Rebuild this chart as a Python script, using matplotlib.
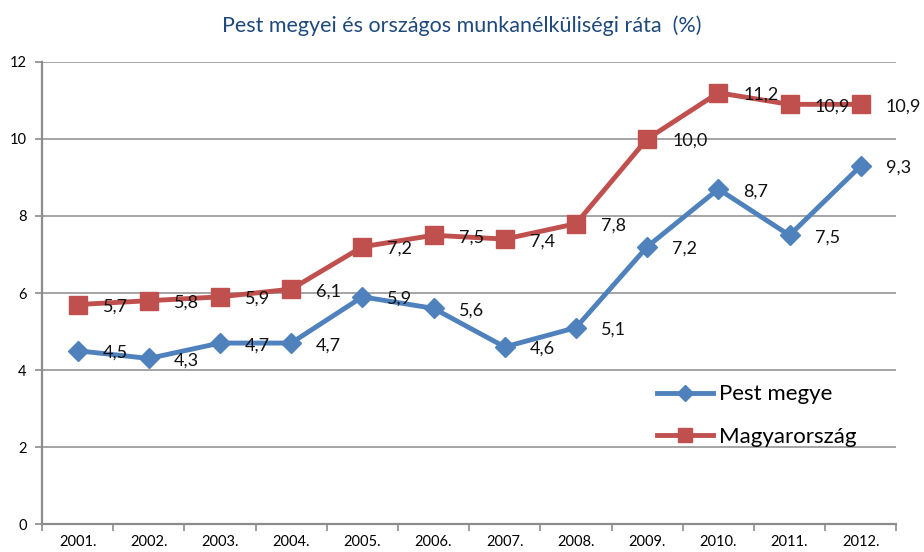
import matplotlib
matplotlib.use('Agg')
import matplotlib.pyplot as plt

plt.rcParams['font.family'] = ['Lato', 'DejaVu Sans']

years = ['2001.', '2002.', '2003.', '2004.', '2005.', '2006.',
         '2007.', '2008.', '2009.', '2010.', '2011.', '2012.']
pest = [4.5, 4.3, 4.7, 4.7, 5.9, 5.6, 4.6, 5.1, 7.2, 8.7, 7.5, 9.3]
hungary = [5.7, 5.8, 5.9, 6.1, 7.2, 7.5, 7.4, 7.8, 10.0, 11.2, 10.9, 10.9]
y_ticks = [0, 2, 4, 6, 8, 10, 12]

BLUE = '#4F81BD'
RED = '#C0504D'
GRID = '#8C8C8C'

fig = plt.figure(figsize=(9.24, 5.52), dpi=100)
ax = fig.add_axes([0.0455, 0.0507, 0.9245, 0.837])

x = list(range(len(years)))
ax.plot(x, pest, color=BLUE, lw=3.5, marker='D', ms=10.5,
        mec=BLUE, mfc=BLUE, label='Pest megye', zorder=3)
ax.plot(x, hungary, color=RED, lw=3.5, marker='s', ms=12.5,
        mec=RED, mfc=RED, label='Magyarország', zorder=3)

for series in (pest, hungary):
    for xi, v in zip(x, series):
        ax.annotate(f'{v:.1f}'.replace('.', ','), (xi, v),
                    xytext=(18, -1.5), textcoords='offset points',
                    ha='left', va='center', fontsize=13, color='#111111',
                    zorder=4)

ax.set_xlim(-0.5, len(years) - 0.5)
ax.set_ylim(0, 12)
ax.set_yticks(y_ticks)
ax.set_yticklabels([str(t) for t in y_ticks], fontsize=10.5)

# category ticks sit between categories, labels centred under each point
ax.set_xticks([i - 0.5 for i in range(len(years) + 1)])
ax.set_xticklabels([])
ax.set_xticks(x, minor=True)
ax.set_xticklabels(years, minor=True, fontsize=10.5)
ax.tick_params(axis='x', which='minor', length=0, pad=8)
ax.tick_params(axis='x', which='major', length=5, color=GRID, width=1.2)
ax.tick_params(axis='y', length=5, color=GRID, width=1.2, pad=6)

ax.grid(axis='y', color=GRID, lw=1.1, zorder=0)
for side in ('top', 'right'):
    ax.spines[side].set_visible(False)
for side in ('left', 'bottom'):
    ax.spines[side].set_color(GRID)
    ax.spines[side].set_linewidth(1.6)
ax.set_axisbelow(True)

fig.text(0.5, 0.953, 'Pest megyei és országos munkanélküliségi ráta  (%)',
         ha='center', va='center', fontsize=15.5, color='#1F497D')

ax.legend(loc='center left', bbox_to_anchor=(0.72, 0.235), frameon=False,
          fontsize=16, handlelength=2.5, handletextpad=0.3,
          labelspacing=1.0, borderpad=0, borderaxespad=0, markerscale=0.8)

fig.savefig('out.png', dpi=100)
